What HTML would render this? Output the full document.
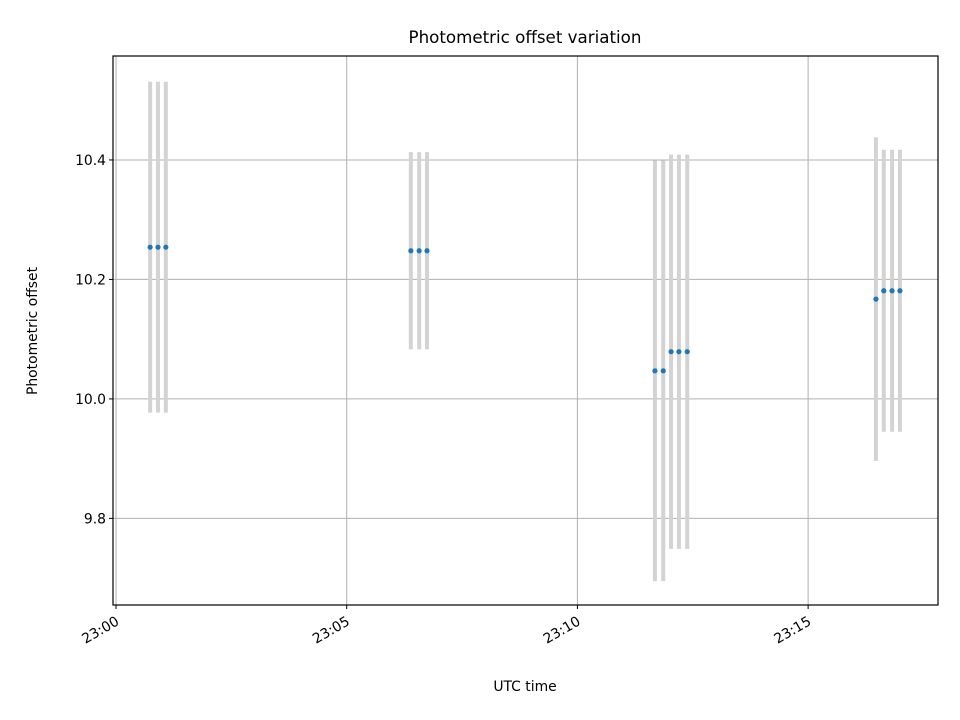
<!DOCTYPE html>
<html><head><meta charset="utf-8"><style>
body{margin:0;background:#fff;}
svg{display:block;font-family:"DejaVu Sans","Liberation Sans",sans-serif;}
</style></head><body>
<svg id="chart" width="960" height="720" viewBox="0 0 960 720">
<rect width="960" height="720" fill="#fff"/>
<g id="grid"></g>
<g id="bars"></g>
<g id="points"></g>
<rect x="113" y="56" width="825" height="549" fill="none" stroke="#000" stroke-width="1.2"/>
<g id="axes"></g>
<text x="525" y="43" text-anchor="middle" font-size="16.7">Photometric offset variation</text>
<text x="525" y="691" text-anchor="middle" font-size="13.9">UTC time</text>
<text transform="translate(37,331) rotate(-90)" text-anchor="middle" font-size="13.9">Photometric offset</text>
</svg>
<script>
// minutes after 23:00
const times = [0.74,0.91,1.08, 6.39,6.57,6.74, 11.68,11.86,12.03,12.20,12.38, 16.47,16.64,16.82,16.99];
const values = [10.254,10.254,10.254, 10.248,10.248,10.248, 10.047,10.047,10.079,10.079,10.079, 10.167,10.181,10.181,10.181];
const errors = [0.277,0.277,0.277, 0.165,0.165,0.165, 0.352,0.352,0.330,0.330,0.330, 0.271,0.236,0.236,0.236];
const yTicks = [9.8,10.0,10.2,10.4];
const yTickLabels = ["9.8","10.0","10.2","10.4"];
const xTicks = [0,5,10,15];
const xTickLabels = ["23:00","23:05","23:10","23:15"];

const L=113,R=938,T=56,B=605;
const xMin=-0.065,xMax=17.815,yMin=9.655,yMax=10.574;
const xs=v=>L+(v-xMin)/(xMax-xMin)*(R-L);
const ys=v=>B-(v-yMin)/(yMax-yMin)*(B-T);
const NS="http://www.w3.org/2000/svg";
function mk(tag,attrs,parent){const e=document.createElementNS(NS,tag);for(const k in attrs)e.setAttribute(k,attrs[k]);document.getElementById(parent).appendChild(e);return e;}

yTicks.forEach((t,i)=>{
  const y=ys(t);
  const g=mk('line',{x1:L,x2:R,y1:y,y2:y,stroke:'#b0b0b0','stroke-width':1},'grid');
  
  
  const tk=mk('line',{x1:L-4,x2:L,y1:y,y2:y,stroke:'#000','stroke-width':1},'axes');
  
  
  const tx=mk('text',{x:L-7,y:y+5,'text-anchor':'end','font-size':13.9},'axes');
  tx.textContent=yTickLabels[i];
  
  
});
xTicks.forEach((t,i)=>{
  const x=xs(t);
  const g=mk('line',{x1:x,x2:x,y1:T,y2:B,stroke:'#b0b0b0','stroke-width':1},'grid');
  
  
  const tk=mk('line',{x1:x,x2:x,y1:B,y2:B+4,stroke:'#000','stroke-width':1},'axes');
  
  
  const tx=mk('text',{transform:`translate(${x+4},${B+19}) rotate(-30)`,'text-anchor':'end','font-size':13.9},'axes');
  tx.textContent=xTickLabels[i];
  
  
});
times.forEach((t,i)=>{
  const x=xs(t);
  const b=mk('line',{x1:x,x2:x,y1:ys(values[i]+errors[i]),y2:ys(values[i]-errors[i]),stroke:'#d3d3d3','stroke-width':4},'bars');
  
  
  const p=mk('circle',{cx:x,cy:ys(values[i]),r:2.6,fill:'#1f77b4'},'points');
  
  
});
</script>
</body></html>
